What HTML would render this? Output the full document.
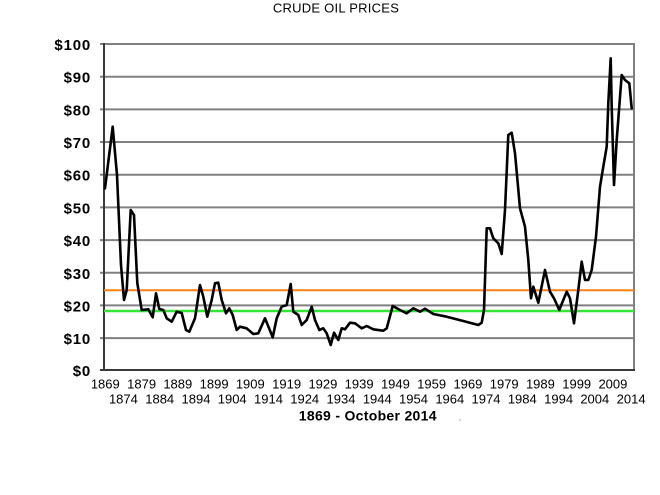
<!DOCTYPE html>
<html><head><meta charset="utf-8"><style>
html,body{margin:0;padding:0;background:#fff;}
svg{display:block;}
text{font-family:"Liberation Sans",Arial,sans-serif;fill:#000;}
</style></head><body>
<svg width="660" height="495" viewBox="0 0 660 495" xmlns="http://www.w3.org/2000/svg">
<rect width="660" height="495" fill="#fff"/>
<text x="336" y="12.7" font-size="13" letter-spacing="0.25" text-anchor="middle">CRUDE OIL PRICES</text>
<g stroke="#808080" stroke-width="2">
<line x1="100" y1="44" x2="635" y2="44"/>
<line x1="100" y1="76.7" x2="634" y2="76.7"/>
<line x1="100" y1="109.4" x2="634" y2="109.4"/>
<line x1="100" y1="142.0" x2="634" y2="142.0"/>
<line x1="100" y1="174.7" x2="634" y2="174.7"/>
<line x1="100" y1="207.4" x2="634" y2="207.4"/>
<line x1="100" y1="240.1" x2="634" y2="240.1"/>
<line x1="100" y1="272.8" x2="634" y2="272.8"/>
<line x1="100" y1="305.4" x2="634" y2="305.4"/>
<line x1="100" y1="338.1" x2="634" y2="338.1"/>
<line x1="634" y1="43" x2="634" y2="371"/>
</g>
<g stroke="#3a3a3a" stroke-width="2">
<line x1="104" y1="43" x2="104" y2="371"/>
<line x1="100" y1="370" x2="635" y2="370"/>
</g>
<line x1="104" y1="290.3" x2="634" y2="290.3" stroke="#ff8010" stroke-width="2"/>
<line x1="104" y1="311" x2="634" y2="311" stroke="#33e633" stroke-width="2.4"/>
<polyline fill="none" stroke="#000" stroke-width="2.6" stroke-linejoin="round" stroke-linecap="round" points="
105,188.3 112.7,126.7 117,175 121,265 124,300 126.7,290 130.7,210 134,215 137.3,283 141.7,310 148.3,309.3 152.7,317.3 156,293.3 159.3,309 163.3,310 166.7,318.3 171.7,321.7 176.7,311.7 181.7,313 186,330 189.3,331.7 195,318.3 200,285 203.3,296.7 207.3,316.7 211.7,300 215,283.3 218.3,282.7 221.7,300 226,313.3 229.3,308.3 232.7,315 236.7,330 240,326.7 246.7,328.3 253.3,334 258.3,333.3 265,318.3 272.7,337.3 276.7,318.3 281.7,306.7 286.7,305 290.7,284 293.3,311.7 298.3,315 301.7,325 306.7,320 311.7,306.7 315,320 319.3,330 323.3,328.3 326.7,333.3 330.7,345 334,332.7 338.3,340 341.7,328.3 345,329.3 350,322.7 355,323.3 361.7,328.3 366.7,326 373.3,329.3 383.3,330.7 386.7,328.3 392.7,306 400,310 406.7,313.3 413.3,308.3 420,311.7 425,308.7 433.3,314 446.7,316.7 463.3,321 478.3,325 481.7,322.7 484,310 486.7,228.3 490,228.3 493.3,238.3 498.3,243.3 501.7,254 505,210 508.3,135 511.7,132.7 515,153.3 520,208.3 525,226.7 528.3,260 531,298.3 533.3,286.7 538.3,302.7 545,270 550,291.7 554,298.3 559.3,310 563.3,300 566.7,291.7 570,298.3 574,323.3 578.3,290 581.7,261.7 585,280 588.3,280 591.7,270 596,236.7 600,186.7 603.3,166.7 606.7,146.7 608.3,103.3 610.7,58.3 611.7,106.7 614,185 616.7,140 621.7,75 625,80 629.3,83.3 631.7,108.3"/>
<g font-size="15" font-weight="bold" text-anchor="end" letter-spacing="0.8">
<text x="91" y="50">$100</text>
<text x="91" y="82.7">$90</text>
<text x="91" y="115.4">$80</text>
<text x="91" y="148">$70</text>
<text x="91" y="180.7">$60</text>
<text x="91" y="213.4">$50</text>
<text x="91" y="246.1">$40</text>
<text x="91" y="278.8">$30</text>
<text x="91" y="311.4">$20</text>
<text x="91" y="344.1">$10</text>
<text x="91" y="376">$0</text>
</g>
<g font-size="13" text-anchor="middle">
<text x="105.3" y="388.5">1869</text>
<text x="141.6" y="388.5">1879</text>
<text x="177.8" y="388.5">1889</text>
<text x="214.1" y="388.5">1899</text>
<text x="250.3" y="388.5">1909</text>
<text x="286.6" y="388.5">1919</text>
<text x="322.9" y="388.5">1929</text>
<text x="359.1" y="388.5">1939</text>
<text x="395.4" y="388.5">1949</text>
<text x="431.6" y="388.5">1959</text>
<text x="467.9" y="388.5">1969</text>
<text x="504.2" y="388.5">1979</text>
<text x="540.4" y="388.5">1989</text>
<text x="576.7" y="388.5">1999</text>
<text x="612.9" y="388.5">2009</text>
<text x="123.4" y="403.5">1874</text>
<text x="159.7" y="403.5">1884</text>
<text x="196.0" y="403.5">1894</text>
<text x="232.2" y="403.5">1904</text>
<text x="268.5" y="403.5">1914</text>
<text x="304.7" y="403.5">1924</text>
<text x="341.0" y="403.5">1934</text>
<text x="377.3" y="403.5">1944</text>
<text x="413.5" y="403.5">1954</text>
<text x="449.8" y="403.5">1964</text>
<text x="486.0" y="403.5">1974</text>
<text x="522.3" y="403.5">1984</text>
<text x="558.6" y="403.5">1994</text>
<text x="594.8" y="403.5">2004</text>
<text x="631.1" y="403.5">2014</text>
</g>
<text x="367.8" y="420.7" font-size="14" font-weight="bold" letter-spacing="0.3" text-anchor="middle">1869 - October 2014</text>
<circle cx="460" cy="420" r="0.7" fill="#999"/>
</svg>
</body></html>
